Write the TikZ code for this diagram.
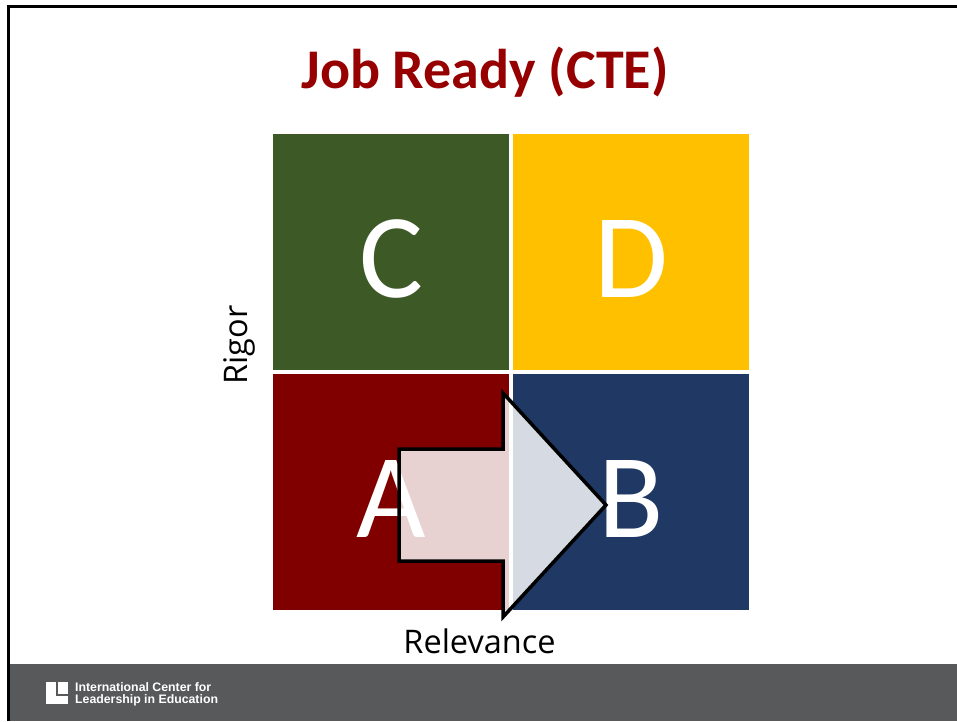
\documentclass[tikz,border=0pt]{standalone}
\usepackage{xcolor}
\usepackage{fontspec}
\setmainfont{Carlito}
\newfontfamily\labelfont{Open Sans}
\newfontfamily\logofont{Liberation Sans}
\definecolor{titlered}{RGB}{150, 0, 0}
\definecolor{cellgreen}{RGB}{61, 89, 38}
\definecolor{cellgold}{RGB}{255, 192, 0}
\definecolor{cellred}{RGB}{128, 0, 0}
\definecolor{cellblue}{RGB}{31, 56, 100}
\definecolor{footergray}{RGB}{88, 89, 91}
\tikzset{
    cell/.style={minimum size=236pt, inner sep=0pt, text=white, text height=90pt, text depth=0pt, font=\fontsize{120}{120}\selectfont},
    axislabel/.style={inner sep=0pt, font=\labelfont\fontsize{32.5}{32.5}\selectfont}
}

\begin{document}
\begin{tikzpicture}[x=1pt, y=-1pt]
    \useasboundingbox (0,0) rectangle (957,721);
    \fill[white] (0,0) rectangle (957,721);
    \fill[footergray] (8,664) rectangle (957,721);
    \draw[line width=3pt] (8.5,721) -- (8.5,6) -- (957,6);

    \node[inner sep=0pt, text=titlered, font=\fontsize{56}{56}\selectfont\bfseries] (title) at (485,72.5) {Job Ready (CTE)};

    \node[cell, fill=cellgreen] (cellC) at (391,252) {C};
    \node[cell, fill=cellgold] (cellD) at (631,252) {D};
    \node[cell, fill=cellred] (cellA) at (391,492) {A};
    \node[cell, fill=cellblue] (cellB) at (631,492) {B};

    \node[axislabel, rotate=90] (rigor) at (239,345) {Rigor};
    \node[axislabel] (relevance) at (479.5,641) {Relevance};

    % block arrow from A to B
    \draw[line width=3.5pt, fill=white, fill opacity=0.82, miter limit=10]
        (399,449) -- (503,449) -- (503,393) -- (606,505) -- (503,617) -- (503,561) -- (399,561) -- cycle;

    % logo
    \fill[white] (46,682) rectangle (56,704);
    \fill[white] (56,695.5) rectangle (68,704);
    \fill[white] (57.5,682) rectangle (68,694);
    \node[anchor=west, inner sep=0pt, align=left, text=white, font=\logofont\bfseries\fontsize{12.3}{12}\selectfont] (logotext) at (75,694) {International Center for\\Leadership in Education};
\end{tikzpicture}
\end{document}
